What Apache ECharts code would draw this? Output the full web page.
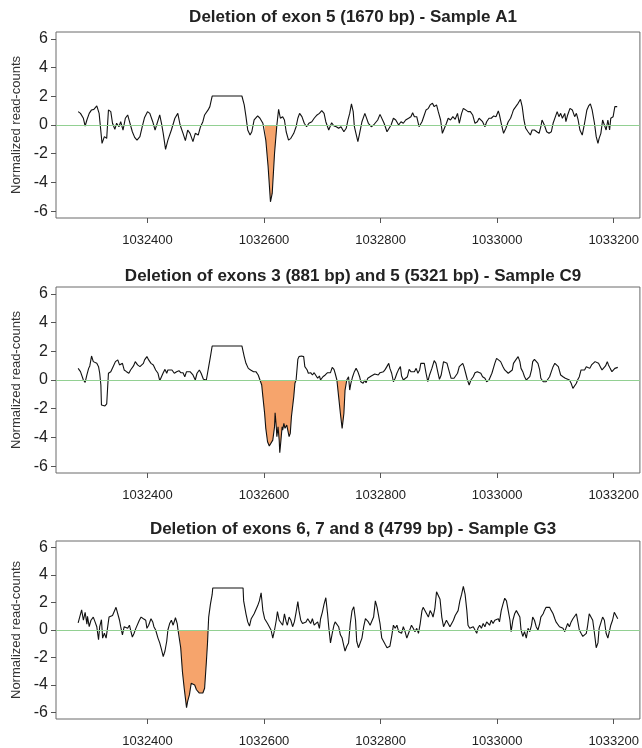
<!DOCTYPE html>
<html>
<head>
<meta charset="utf-8">
<title>Deletions</title>
<script src="https://cdn.jsdelivr.net/npm/echarts@6/dist/echarts.min.js"></script>
<style>
	html, body { margin: 0; padding: 0; background: #fff; }
	#chart { width: 642px; height: 748px; }
</style>
</head>
<body>
<div id="chart"></div>
<script>
// ---- data ----
const xTicks = [1032400, 1032600, 1032800, 1033000, 1033200];
const yTicks = [-6, -4, -2, 0, 2, 4, 6];

const titles = [
	'Deletion of exon 5 (1670 bp) - Sample A1',
	'Deletion of exons 3 (881 bp) and 5 (5321 bp) - Sample C9',
	'Deletion of exons 6, 7 and 8 (4799 bp) - Sample G3'
];

// deleted stretches (filled in orange)
const delA1 = [[1032601, 1032622]];
const delC9 = [[1032593, 1032655], [1032725, 1032742]];
const delG3 = [[1032454, 1032504]];

const posA1 = [
	1032281,1032285,1032290,1032293,1032296,1032300,1032304,1032308,1032313,1032317,
	1032320,1032322,1032326,1032330,1032333,1032337,1032340,1032344,1032347,1032351,
	1032354,1032358,1032362,1032366,1032370,1032374,1032378,1032382,1032387,1032391,
	1032395,1032400,1032404,1032409,1032413,1032416,1032421,1032424,1032427,1032431,
	1032435,1032441,1032447,1032452,1032456,1032461,1032465,1032469,1032473,1032478,
	1032482,1032487,1032491,1032495,1032498,1032501,1032504,1032507,1032511,1032562,
	1032566,1032569,1032572,1032576,1032579,1032583,1032589,1032593,1032598,1032601,
	1032603,1032607,1032611,1032614,1032618,1032622,1032625,1032628,1032632,1032635,
	1032638,1032642,1032646,1032651,1032655,1032658,1032661,1032665,1032669,1032673,
	1032677,1032682,1032686,1032691,1032695,1032699,1032703,1032706,1032711,
	1032716,1032720,1032724,1032728,1032732,1032737,1032741,1032744,1032747,1032750,
	1032753,1032755,1032759,1032761,1032764,1032768,1032773,1032775,1032779,1032784,
	1032788,1032791,1032795,1032799,1032802,1032806,1032811,1032814,1032818,1032822,
	1032826,1032831,1032835,1032839,1032843,1032848,1032852,1032855,1032858,1032862,
	1032866,1032871,1032875,1032878,1032882,1032885,1032889,1032892,1032896,1032899,
	1032903,1032906,1032909,1032913,1032916,1032920,1032924,1032928,1032932,1032935,
	1032939,1032942,1032946,1032950,1032954,1032958,1032962,1032966,1032969,1032972,
	1032975,1032979,1032982,1032986,1032990,1032994,1032998,1033002,1033004,1033007,
	1033011,1033015,1033019,1033023,1033026,1033028,1033032,1033036,1033040,1033043,
	1033046,1033049,1033053,1033057,1033060,1033064,1033068,1033072,1033075,1033077,
	1033081,1033085,1033089,1033093,1033096,1033100,1033103,1033106,1033109,1033112,
	1033116,1033118,1033121,1033125,1033129,1033133,1033136,1033139,1033142,1033146,
	1033150,1033154,1033157,1033160,1033163,1033167,1033170,1033173,1033175,1033178,
	1033181,1033184,1033187,1033190,1033193,1033195,1033199,1033202,1033206
];
const valA1 = [
	0.93,0.81,0.47,-0.07,0.35,0.81,1.05,1.09,1.33,0.81,
	0.70,-1.28,-0.81,-0.93,1.05,0.93,0.12,-0.30,0.12,-0.12,
	0.23,-0.35,0.47,0.70,0.12,-0.47,-0.86,-1.05,-0.81,-0.12,
	0.53,0.93,0.81,0.23,-0.35,-0.30,0.70,0.12,-0.58,-1.70,
	-1.05,-0.35,0.47,0.81,0.00,-0.58,-1.09,-0.35,-0.58,-1.16,
	-0.58,-0.70,-0.12,0.23,0.70,0.81,1.05,1.28,2.02,2.02,
	1.40,0.58,-0.35,-0.70,-0.47,0.35,0.63,0.47,0.12,0.00,
	-1.05,-2.91,-5.35,-4.77,-1.98,0.00,1.09,0.47,0.58,0.35,
	-0.47,-1.05,-0.93,-0.58,-0.12,0.47,0.81,0.58,0.12,-0.12,
	0.12,0.23,0.47,0.70,0.81,1.00,0.81,0.23,-0.35,
	0.16,-0.07,-0.12,-0.23,-0.12,-0.47,-0.23,0.35,0.81,1.47,
	0.93,-0.12,-0.81,-1.16,-0.58,0.23,0.81,0.58,0.12,-0.12,
	0.00,-0.12,0.35,0.74,0.70,0.12,-0.47,-0.58,0.00,0.47,
	0.35,0.00,0.23,0.12,0.35,0.47,0.58,0.86,0.58,0.58,
	-0.12,0.23,0.70,1.05,1.16,1.40,1.51,1.28,1.40,0.93,
	0.35,-0.58,-0.58,0.12,0.47,0.35,0.58,0.40,0.81,0.12,
	0.81,1.16,1.05,0.93,0.93,0.70,0.12,0.23,0.47,0.40,
	0.23,-0.12,0.23,0.47,0.47,0.63,0.58,0.98,0.70,0.12,
	-0.58,-0.23,0.23,0.47,0.81,1.05,1.28,1.51,1.79,1.28,
	0.35,-0.23,-0.47,-0.70,-0.35,-0.35,-0.47,-0.58,-0.12,0.35,
	0.00,-0.47,-0.58,-0.47,0.12,0.58,0.93,0.58,0.81,0.47,
	0.81,0.23,0.70,1.16,1.05,0.58,0.81,0.35,-0.35,-0.70,
	0.12,1.05,1.33,1.47,1.05,0.12,-0.81,-1.28,-0.93,-0.58,
	0.35,0.00,-0.35,0.35,-0.35,0.47,0.58,1.28,1.28
];

const posC9 = [
	1032281,1032285,1032290,1032293,1032296,1032299,1032301,1032304,1032307,1032310,
	1032313,1032316,1032318,1032320,1032321,1032324,1032327,1032330,1032333,1032334,
	1032337,1032341,1032345,1032349,1032352,1032354,1032357,1032360,1032364,1032368,
	1032371,1032376,1032379,1032383,1032387,1032390,1032393,1032395,1032399,1032402,
	1032406,1032410,1032414,1032418,1032421,1032424,1032427,1032430,1032433,1032435,
	1032438,1032442,1032446,1032450,1032454,1032457,1032461,1032464,1032467,1032469,
	1032473,1032478,1032482,1032485,1032489,1032492,1032496,1032501,1032505,1032508,
	1032511,1032562,1032566,1032569,1032573,1032577,1032579,1032582,1032586,1032590,
	1032593,1032596,1032598,1032601,1032603,1032606,1032609,1032612,1032615,1032618,
	1032619,1032621,1032622,1032624,1032626,1032627,1032629,1032631,1032632,1032634,
	1032636,1032639,1032642,1032643,1032645,1032647,1032651,1032653,1032655,1032658,
	1032660,1032664,1032668,1032670,1032674,1032676,1032680,1032683,1032686,1032689,
	1032692,1032695,1032697,1032701,1032705,1032709,
	1032711,1032714,1032717,1032720,1032722,1032725,1032728,1032731,1032734,1032737,
	1032739,1032742,1032745,1032747,1032749,1032752,1032755,1032758,1032761,1032764,
	1032766,1032770,1032773,1032775,1032778,1032781,1032784,1032787,1032790,1032792,
	1032796,1032799,1032802,1032805,1032808,1032811,1032814,1032816,1032819,1032822,
	1032825,1032828,1032831,1032834,1032836,1032839,1032842,1032846,1032849,1032852,
	1032855,1032858,1032861,1032864,1032867,1032869,1032872,1032875,1032878,1032881,
	1032884,1032888,1032892,1032895,1032898,1032901,1032904,1032908,1032910,1032914,
	1032917,1032921,1032924,1032926,1032929,1032932,1032935,1032938,1032941,1032943,
	1032946,1032949,1032952,1032955,1032959,1032962,1032966,1032969,1032972,1032975,
	1032979,1032982,1032986,1032988,1032991,1032996,1032999,1033002,1033006,1033010,
	1033013,1033016,1033019,1033022,1033026,1033028,1033032,1033036,1033039,1033041,
	1033044,1033047,1033050,1033053,1033056,1033059,1033061,1033064,1033067,1033070,
	1033073,1033075,1033079,1033081,1033084,1033087,1033090,1033093,1033096,1033099,
	1033102,1033105,1033109,1033113,1033117,1033120,1033124,1033127,1033130,1033133,
	1033136,1033138,1033141,1033144,1033147,1033150,1033153,1033155,1033159,1033162,
	1033165,1033168,1033171,1033174,1033177,1033180,1033183,1033186,1033189,1033191,
	1033194,1033197,1033200,1033202,1033204,1033207
];
const valC9 = [
	0.81,0.58,0.00,-0.16,0.35,0.81,0.98,1.67,1.28,1.40,
	1.16,0.93,0.47,-0.35,-1.74,-1.86,-1.81,-1.67,0.47,0.53,
	0.58,0.93,1.28,1.40,1.05,0.93,1.16,0.70,0.58,0.47,
	0.70,0.98,1.28,1.05,0.93,0.81,1.16,1.40,1.63,1.40,
	1.16,1.05,0.70,0.47,-0.05,0.00,0.51,0.74,0.47,0.70,
	0.58,0.70,0.47,0.58,0.65,0.51,0.51,0.23,0.58,0.51,
	0.58,0.35,0.00,0.47,0.70,0.47,0.05,0.00,0.93,1.63,
	2.37,2.37,1.63,1.16,0.81,0.70,0.74,0.58,0.58,0.35,
	0.00,-0.35,-1.16,-2.33,-3.37,-4.30,-4.60,-4.70,-4.19,-3.26,
	-2.28,-3.26,-3.95,-3.26,-4.19,-5.07,-4.19,-3.26,-3.49,-3.02,
	-3.37,-3.14,-3.26,-3.95,-3.72,-2.56,-1.16,-0.23,0.00,1.44,
	1.63,1.67,1.63,0.93,0.70,0.47,0.51,0.35,0.51,0.47,
	0.12,0.28,0.00,0.23,0.35,0.51,
	0.58,0.51,0.88,0.74,0.47,0.00,-1.16,-2.33,-3.37,-2.33,
	-0.70,0.00,0.23,-0.70,-0.23,0.23,0.58,0.81,0.58,0.23,
	-0.12,-0.23,0.00,-0.19,0.12,0.05,0.28,0.23,0.42,0.47,
	0.35,0.51,0.47,0.58,0.74,0.81,1.16,0.81,0.47,-0.12,
	0.12,0.47,0.74,0.93,0.28,0.00,-0.12,0.23,0.74,0.58,
	0.70,0.58,0.81,0.47,0.70,1.16,1.05,1.16,0.47,-0.12,
	0.35,0.81,1.35,1.16,0.58,0.05,0.35,1.28,1.40,1.16,
	0.70,0.12,0.23,0.12,0.23,0.47,0.93,0.93,1.16,0.93,
	0.47,0.00,-0.35,0.00,0.23,0.51,0.58,0.51,0.47,0.23,
	0.12,-0.12,0.00,0.12,0.47,1.16,1.51,1.40,1.28,0.93,
	0.70,0.70,0.47,0.58,0.70,1.16,1.40,1.63,1.28,0.81,
	0.58,0.23,0.00,0.00,0.23,0.70,1.28,1.44,1.40,1.16,
	0.70,0.12,-0.12,0.00,-0.12,0.00,0.23,0.58,0.93,1.16,
	1.28,0.93,0.35,0.23,0.12,0.12,0.00,-0.23,-0.58,-0.47,
	-0.23,0.00,0.23,0.70,0.81,0.70,0.93,1.05,0.81,1.05,
	1.16,1.28,1.16,1.16,0.93,0.70,0.70,0.98,1.28,1.05,
	0.81,0.58,0.58,0.81,0.93,0.88
];

const posG3 = [
	1032281,1032284,1032287,1032290,1032293,1032296,1032297,1032300,1032303,1032307,
	1032310,1032313,1032316,1032318,1032321,1032323,1032326,1032329,1032332,1032334,
	1032337,1032340,1032343,1032346,1032349,1032352,1032354,1032357,1032360,1032363,
	1032366,1032369,1032371,1032374,1032377,1032380,1032383,1032386,1032389,1032393,
	1032397,1032399,1032402,1032406,1032409,1032411,1032414,1032418,1032421,1032424,
	1032427,1032430,1032433,1032435,1032438,1032441,1032444,1032448,1032451,1032452,
	1032454,1032457,1032460,1032463,1032465,1032467,1032469,1032472,1032475,1032478,
	1032481,1032484,1032487,1032489,1032492,1032495,1032498,1032501,1032503,1032504,
	1032505,1032508,1032511,1032512,1032564,1032565,1032569,1032572,1032575,1032578,
	1032581,1032583,1032586,1032589,1032592,1032595,1032598,1032601,1032603,1032606,
	1032609,1032612,1032615,1032618,1032621,1032623,1032626,1032629,1032632,1032635,
	1032638,1032640,1032643,1032646,1032649,1032652,1032655,1032658,1032660,1032663,
	1032666,1032669,1032672,1032675,1032677,1032680,1032683,1032686,1032689,1032692,
	1032695,1032697,1032700,1032703,1032706,1032709,
	1032711,1032714,1032717,1032720,1032722,1032725,1032728,1032731,1032734,1032737,
	1032739,1032742,1032745,1032748,1032751,1032754,1032757,1032759,1032762,1032765,
	1032768,1032771,1032774,1032777,1032779,1032782,1032785,1032788,1032791,1032794,
	1032796,1032799,1032802,1032805,1032808,1032811,1032814,1032816,1032819,1032822,
	1032825,1032828,1032831,1032834,1032836,1032839,1032842,1032845,1032848,1032851,
	1032853,1032856,1032859,1032862,1032865,1032868,1032871,1032873,1032876,1032879,
	1032882,1032885,1032888,1032890,1032893,1032896,1032899,1032902,1032905,1032908,
	1032910,1032913,1032916,1032919,1032922,1032925,1032928,1032930,1032933,1032936,
	1032939,1032942,1032945,1032948,1032950,1032953,1032956,1032959,1032962,1032965,
	1032967,1032970,1032973,1032976,1032979,1032982,1032985,1032987,1032990,1032993,
	1032996,1032999,1033002,1033004,1033007,1033010,1033013,1033016,1033019,1033022,
	1033024,1033027,1033030,1033033,1033036,1033039,1033041,1033044,1033047,1033050,
	1033053,1033056,1033059,1033061,1033064,1033067,1033070,1033073,1033075,1033079,
	1033081,1033084,1033087,1033090,1033093,1033096,1033099,1033101,1033104,1033107,
	1033110,1033113,1033116,1033118,1033121,1033124,1033127,1033130,1033133,1033136,
	1033138,1033141,1033144,1033147,1033150,1033153,1033155,1033158,1033161,1033164,
	1033167,1033170,1033173,1033175,1033178,1033181,1033184,1033187,1033190,1033192,
	1033195,1033198,1033201,1033204,1033207
];
const valG3 = [
	0.52,0.59,1.46,0.71,1.29,0.42,0.99,0.24,0.71,0.94,
	0.59,0.24,-0.71,0.24,0.75,-0.59,-0.24,-0.59,-0.59,0.94,
	0.82,1.06,0.94,1.65,1.53,0.71,0.24,-0.35,0.24,0.35,
	0.12,0.35,0.00,-0.52,-0.24,0.12,0.00,0.71,0.94,0.82,
	0.71,0.12,0.35,0.82,0.59,0.24,0.00,-0.59,-0.94,-1.41,
	-1.93,-1.53,-0.82,0.00,0.47,0.71,0.35,0.89,0.47,0.12,
	0.00,-1.29,-3.06,-4.24,-4.94,-5.65,-5.18,-4.71,-3.88,-3.81,
	-4.00,-4.35,-4.47,-4.59,-4.71,-4.59,-4.24,-2.35,-0.94,0.00,
	0.94,1.88,2.59,3.06,3.06,2.12,1.18,0.59,0.28,0.82,
	0.94,1.18,1.29,1.76,2.12,2.71,1.41,0.82,0.71,0.47,
	0.24,0.00,-0.59,0.00,0.71,1.34,0.71,0.59,0.35,1.18,
	0.59,0.35,0.94,0.71,0.24,0.59,1.29,2.07,1.41,0.71,
	0.47,0.35,0.59,0.82,0.71,0.47,0.82,0.35,0.24,0.59,
	0.12,0.82,1.29,1.88,2.35,1.18,
	0.24,-0.94,-0.24,0.35,0.59,0.71,0.24,-0.35,-0.59,-1.18,
	-1.53,-1.18,-0.94,0.47,1.41,1.69,0.71,-0.82,-1.29,-1.18,
	-0.59,0.24,0.82,0.94,0.59,0.35,0.24,0.94,2.12,1.65,
	1.18,0.47,-0.59,-0.82,-1.06,-1.29,-1.41,-1.18,-0.47,0.35,
	0.12,0.35,-0.12,0.00,-0.24,0.24,-0.12,-0.59,-0.24,0.12,
	0.35,0.12,-0.12,0.12,-0.24,0.47,1.41,1.65,1.76,1.18,
	0.94,1.41,1.18,0.94,1.53,2.78,2.82,2.24,0.94,0.24,
	0.35,0.71,0.59,0.24,0.12,0.71,1.06,0.94,1.41,2.12,
	2.59,3.18,2.59,1.41,0.35,0.12,0.24,0.24,0.12,-0.24,
	0.12,0.35,0.12,0.47,0.24,0.59,0.59,0.35,0.71,0.47,
	0.71,0.59,0.82,0.59,1.41,1.88,2.31,2.12,1.41,0.71,
	-0.12,0.71,1.18,1.41,1.46,0.94,0.00,-0.47,-0.12,-0.59,
	0.12,-0.12,0.35,0.94,0.71,0.24,0.00,0.47,0.94,1.18,
	1.41,1.65,1.69,1.65,1.41,1.18,0.82,0.59,0.47,0.24,
	0.35,0.12,-0.12,0.12,0.47,0.24,0.59,0.82,0.82,1.18,
	0.71,0.00,-0.24,-0.47,-0.35,-0.24,0.24,1.18,1.29,0.71,
	-0.24,-1.29,-0.94,0.12,0.24,0.94,0.71,-0.24,-0.59,-0.47,
	0.35,0.71,1.29,1.18,0.82
];

// ---- layout ----
const gridTops = [32, 287, 541];
const titleTops = [4, 263, 516];

function pairs(pos, val) {
	return pos.map(function(p, i) { return [p, val[i]]; });
}

function drawChart() {
	let myChart = echarts.init(document.getElementById('chart'));

	const panels = [
		{ data: pairs(posA1, valA1), del: delA1 },
		{ data: pairs(posC9, valC9), del: delC9 },
		{ data: pairs(posG3, valG3), del: delG3 }
	];

	let grid = [], xAxis = [], yAxis = [], title = [], series = [];

	panels.forEach(function(p, i) {
		title.push({
			text: titles[i],
			left: 348,
			top: titleTops[i],
			textAlign: 'center',
			textStyle: {
				fontFamily: 'Liberation Sans, Arial, sans-serif',
				fontSize: 17,
				fontWeight: 'bold',
				color: '#222'
			}
		});
		grid.push({
			left: 56,
			right: 1,
			top: gridTops[i],
			height: 186,
			show: true,
			borderColor: '#6a6a6a',
			borderWidth: 1,
			backgroundColor: '#fff'
		});
		xAxis.push({
			type: 'value',
			gridIndex: i,
			min: 1032243,
			max: 1033245,
			axisLine: { show: false, onZero: false },
			splitLine: { show: false },
			axisTick: {
				show: true,
				length: 5,
				customValues: xTicks,
				lineStyle: { color: '#555' }
			},
			axisLabel: {
				customValues: xTicks,
				margin: 16,
				fontSize: 13,
				fontFamily: 'Liberation Sans, Arial, sans-serif',
				color: '#222',
				formatter: function(v) { return String(v); }
			}
		});
		yAxis.push({
			type: 'value',
			gridIndex: i,
			min: -6.48,
			max: 6.48,
			name: 'Normalized read-counts',
			nameLocation: 'middle',
			nameGap: 33,
			nameTextStyle: {
				fontFamily: 'Liberation Sans, Arial, sans-serif',
				fontSize: 13,
				color: '#333'
			},
			axisLine: { show: false, onZero: false },
			splitLine: { show: false },
			axisTick: {
				show: true,
				length: 5,
				customValues: yTicks,
				lineStyle: { color: '#555' }
			},
			axisLabel: {
				customValues: yTicks,
				margin: 8,
				fontSize: 16,
				fontFamily: 'Liberation Sans, Arial, sans-serif',
				color: '#222'
			}
		});

		// orange fill between curve and zero over each deleted stretch
		p.del.forEach(function(span) {
			series.push({
				type: 'line',
				xAxisIndex: i,
				yAxisIndex: i,
				z: 1,
				silent: true,
				showSymbol: false,
				lineStyle: { width: 0 },
				areaStyle: { color: '#f6a46c', opacity: 1, origin: 0 },
				data: p.data.filter(function(d) { return d[0] >= span[0] && d[0] <= span[1]; })
			});
		});

		series.push({
			type: 'line',
			xAxisIndex: i,
			yAxisIndex: i,
			z: 3,
			silent: true,
			showSymbol: false,
			lineStyle: { color: '#111', width: 1.1 },
			data: p.data,
			markLine: {
				silent: true,
				symbol: ['none', 'none'],
				label: { show: false },
				lineStyle: { color: '#92d092', width: 1, type: 'solid' },
				data: [{ yAxis: 0 }]
			}
		});
	});

	let option = {
		animation: false,
		backgroundColor: '#fff',
		title: title,
		grid: grid,
		xAxis: xAxis,
		yAxis: yAxis,
		series: series
	};

	myChart.setOption(option);
	window.addEventListener('resize', function() {
		myChart.resize();
	});
}

window.addEventListener('load', drawChart);
</script>
</body>
</html>
